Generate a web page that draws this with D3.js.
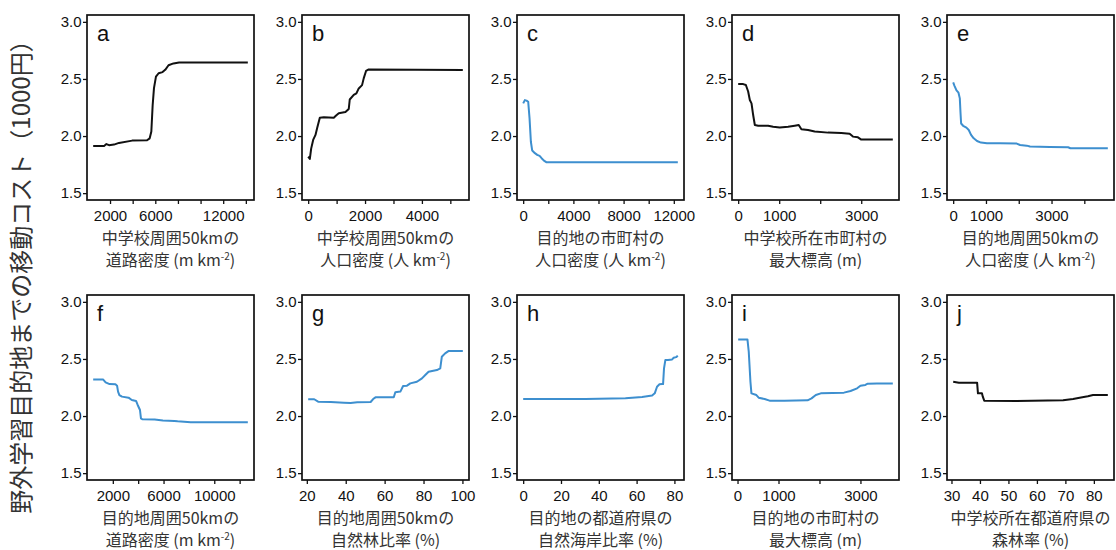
<!DOCTYPE html>
<html><head><meta charset="utf-8">
<script src="https://cdn.jsdelivr.net/npm/d3@7"></script>
<style>body{margin:0;background:#fff}svg{display:block}</style>
</head><body>
<svg id="chart" width="1116" height="550"></svg>
<script>
// ---------- data ----------
const yTicks = [1.5, 2.0, 2.5, 3.0];
const yTickLabels = ["1.5", "2.0", "2.5", "3.0"];
const yTitle = "野外学習目的地までの移動コスト（1000円）";

const aX = [511,1474,1679,1912,2350,2788,3956,5270,5504,5650,5766,5883,6058,6292,6642,6876,7168,7606,8102,14175];
const aY = [1.913,1.913,1.93,1.92,1.925,1.94,1.96,1.963,1.98,2.04,2.27,2.42,2.52,2.55,2.56,2.58,2.62,2.636,2.645,2.645];
const aTicks = [2000,4000,6000,8000,10000,12000,14000];
const aLabels = ["2000","","6000","","","12000",""];

const bX = [0,58,105,175,257,316,409,550,900,982,1076,1310,1427,1462,1602,1696,1778,1895,1953,2035,2129,5439];
const bY = [1.82,1.80,1.89,1.966,2.01,2.07,2.16,2.165,2.16,2.18,2.20,2.21,2.237,2.32,2.36,2.374,2.417,2.446,2.505,2.57,2.583,2.578];
const bTicks = [0,1000,2000,3000,4000,5000];
const bLabels = ["0","","2000","","4000",""];

const cX = [0,133,267,400,507,613,720,933,1120,1307,1467,1653,1840,2053,12320];
const cY = [2.286,2.315,2.31,2.30,2.155,1.95,1.873,1.85,1.835,1.826,1.806,1.785,1.771,1.771,1.771];
const cTicks = [0,2000,4000,6000,8000,10000,12000];
const cLabels = ["0","","4000","","8000","","12000"];

const dX = [0,122,187,243,284,325,365,406,487,730,852,1014,1217,1379,1476,1541,1703,1865,2190,2514,2717,2798,2920,3001,3770];
const dY = [2.455,2.455,2.447,2.39,2.316,2.286,2.184,2.097,2.091,2.091,2.082,2.074,2.082,2.091,2.097,2.059,2.053,2.039,2.030,2.027,2.021,1.995,1.989,1.969,1.969];
const dTicks = [0,1000,2000,3000];
const dLabels = ["0","1000","","3000"];

const eX = [0,40,101,162,202,222,242,303,404,475,545,626,727,848,1030,1434,1939,2040,2242,2343,2949,3505,3576,4717];
const eY = [2.47,2.44,2.40,2.38,2.33,2.21,2.11,2.09,2.074,2.053,2.01,1.98,1.957,1.943,1.937,1.937,1.934,1.922,1.916,1.908,1.905,1.902,1.893,1.893];
const eTicks = [0,1000,2000,3000,4000];
const eLabels = ["0","1000","","3000",""];

const fX = [452,1226,1432,1742,2206,2335,2413,2516,2723,3239,3497,3832,3961,4142,4219,4323,5303,5948,6852,7110,7884,8142,12645];
const fY = [2.321,2.321,2.295,2.28,2.278,2.266,2.214,2.184,2.17,2.161,2.14,2.132,2.097,2.053,1.98,1.972,1.969,1.96,1.957,1.954,1.948,1.946,1.946];
const fTicks = [2000,4000,6000,8000,10000,12000];
const fLabels = ["2000","","6000","","10000",""];

const gX = [20.7,23.8,25.8,32.3,39.1,42.5,45.9,52.8,54.1,55.3,64.7,65.5,68.1,69.5,71.5,73.2,76.6,79.2,80.9,82.6,86.9,88.6,89.4,91.1,92.8,100.2];
const gY = [2.147,2.147,2.126,2.123,2.117,2.114,2.12,2.123,2.149,2.164,2.164,2.208,2.214,2.263,2.266,2.286,2.30,2.33,2.359,2.388,2.403,2.417,2.519,2.549,2.569,2.569];
const gTicks = [20,40,60,80,100];
const gLabels = ["20","40","60","80","100"];

const hX = [0,33,54.1,62.9,68.2,69.6,70.8,72.1,73.5,74,74.5,75.2,76.6,78.8,79.6,80.9,81.8];
const hY = [2.149,2.149,2.155,2.167,2.179,2.199,2.257,2.278,2.28,2.28,2.417,2.49,2.49,2.496,2.51,2.516,2.528];
const hTicks = [0,20,40,60,80];
const hLabels = ["0","20","40","60","80"];

const iX = [16,242,274,315,339,460,516,661,782,1145,1710,1806,1911,2032,2597,2758,2919,3000,3121,3177,3403,3790];
const iY = [2.671,2.671,2.563,2.30,2.199,2.184,2.161,2.149,2.135,2.135,2.138,2.155,2.184,2.199,2.205,2.219,2.243,2.266,2.272,2.283,2.286,2.286];
const iTicks = [0,1000,2000,3000];
const iLabels = ["0","1000","","3000"];

const jX = [30.6,32.6,39,39.3,40.7,41,41.5,52.9,69.2,72.7,75,77.9,79.7,84.9];
const jY = [2.301,2.292,2.292,2.199,2.199,2.17,2.135,2.132,2.138,2.149,2.161,2.173,2.184,2.184];
const jTicks = [30,40,50,60,70,80];
const jLabels = ["30","40","50","60","70","80"];

const letters = ["a","b","c","d","e","f","g","h","i","j"];
const titles1 = ["中学校周囲50kmの","中学校周囲50kmの","目的地の市町村の","中学校所在市町村の","目的地周囲50kmの",
                 "目的地周囲50kmの","目的地周囲50kmの","目的地の都道府県の","目的地の市町村の","中学校所在都道府県の"];
const titles2 = ["道路密度 (m km","人口密度 (人 km","人口密度 (人 km","最大標高 (m)","人口密度 (人 km",
                 "道路密度 (m km","自然林比率 (%)","自然海岸比率 (%)","最大標高 (m)","森林率 (%)"];
const titles2Sup = ["-2","-2","-2","","-2","-2","","","",""];
const seriesKind = ["school","school","dest","school","dest","dest","dest","dest","dest","school"];

// ---------- layout / style ----------
const BLACK = "#111111", BLUE = "#3d8fcf";
const left0 = 87, colStep = 215, pw = 167, ph = 185;
const rowTops = [15, 295];

const xs = [aX,bX,cX,dX,eX,fX,gX,hX,iX,jX];
const ys = [aY,bY,cY,dY,eY,fY,gY,hY,iY,jY];
const ticks = [aTicks,bTicks,cTicks,dTicks,eTicks,fTicks,gTicks,hTicks,iTicks,jTicks];
const tlabels = [aLabels,bLabels,cLabels,dLabels,eLabels,fLabels,gLabels,hLabels,iLabels,jLabels];

const svg = d3.select("#chart");
const tickFont = "'Liberation Sans', Arial, sans-serif";
const cjkFont = "'Noto Sans CJK JP', sans-serif";

function padded(ext) { const r = ext[1]-ext[0]; return [ext[0]-0.04*r, ext[1]+0.04*r]; }

letters.forEach((L, k) => {
  const row = Math.floor(k/5), col = k%5;
  const x0 = left0 + col*colStep, y0 = rowTops[row];
  const g = svg.append("g").attr("transform", `translate(${x0},${y0})`);

  const x = d3.scaleLinear().domain(padded(d3.extent(xs[k]))).range([0, pw]);
  const y = d3.scaleLinear().domain(padded([1.5, 3.0])).range([ph, 0]);

  const xa = g.append("g").attr("transform", `translate(0,${ph})`)
    .call(d3.axisBottom(x).tickValues(ticks[k]).tickFormat((d,i)=>tlabels[k][i]).tickSize(4).tickSizeOuter(0).tickPadding(6));
  const ya = g.append("g")
    .call(d3.axisLeft(y).tickValues(yTicks).tickFormat((d,i)=>yTickLabels[i]).tickSize(4).tickSizeOuter(0).tickPadding(1.5));
  [xa, ya].forEach(a => {
    a.select(".domain").remove();
    a.selectAll("line").attr("stroke", "#111").attr("stroke-width", 1.3);
    a.selectAll("text").attr("font-family", tickFont).attr("font-size", 15).attr("fill", "#111");
  });

  const pts = xs[k].map((v,i)=>[v, ys[k][i]]);
  g.append("path").datum(pts)
    .attr("fill","none")
    .attr("stroke", seriesKind[k]==="school" ? BLACK : BLUE)
    .attr("stroke-width", 2)
    .attr("stroke-linejoin","round")
    .attr("d", d3.line().x(d=>x(d[0])).y(d=>y(d[1])));

  g.append("rect").attr("x",0).attr("y",0).attr("width",pw).attr("height",ph)
    .attr("fill","none").attr("stroke","#111").attr("stroke-width",1.7);

  g.append("text").attr("x", 10).attr("y", 26).text(L)
    .attr("font-family", tickFont).attr("font-size", 22).attr("fill","#111");

  g.append("text").attr("x", pw/2).attr("y", ph+44).attr("text-anchor","middle")
    .attr("font-family", cjkFont).attr("font-size", 16).attr("fill","#333").text(titles1[k]);
  const t2 = g.append("text").attr("x", pw/2).attr("y", ph+66).attr("text-anchor","middle")
    .attr("font-family", cjkFont).attr("font-size", 16).attr("fill","#333");
  t2.append("tspan").text(titles2[k]);
  if (titles2Sup[k]) {
    t2.append("tspan").attr("dy", -6).attr("font-size", 10).text(titles2Sup[k]);
    t2.append("tspan").attr("dy", 6).text(")");
  }
});

svg.append("text")
  .attr("transform", "translate(30,271) rotate(-90)")
  .attr("text-anchor","middle")
  .attr("font-family", cjkFont).attr("font-size", 24).attr("fill","#333")
  .text(yTitle);
</script>
</body></html>
